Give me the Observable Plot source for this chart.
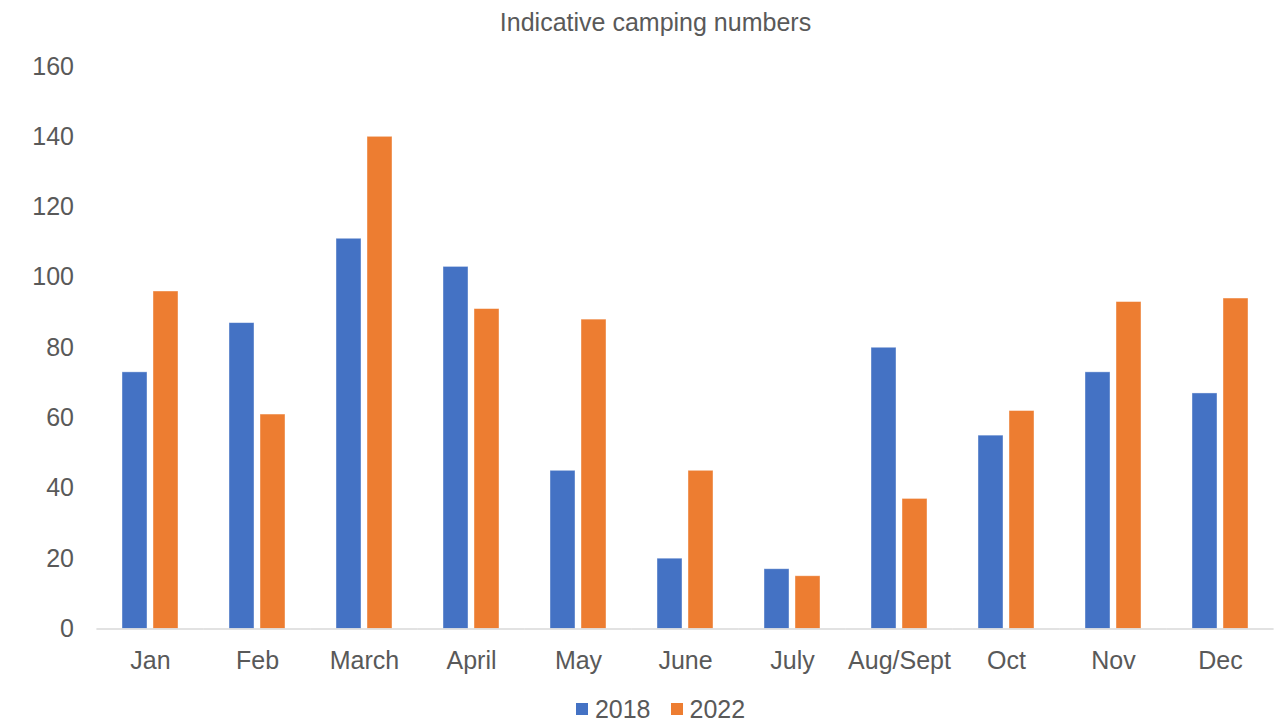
<!DOCTYPE html>
<html>
<head>
<meta charset="utf-8">
<script src="https://cdn.jsdelivr.net/npm/d3@7"></script>
<script src="https://cdn.jsdelivr.net/npm/@observablehq/plot@0.6"></script>
<style>
  html, body { margin: 0; padding: 0; background: #fff; }
  body { width: 1287px; height: 724px; overflow: hidden; font-family: "Liberation Sans", Arial, sans-serif; color: #595959; }
  #title { height: 44px; line-height: 44px; font-size: 25px; text-align: center; width: 1287px; padding-left: 24px; box-sizing: border-box; }
  #legend { height: 30px; display: flex; justify-content: center; align-items: center; font-size: 25px; width: 1287px; padding-left: 34px; box-sizing: border-box; }
  .item { display: flex; align-items: center; margin: 0 10px; }
  .sw { width: 12px; height: 12px; margin-right: 7px; display: inline-block; }
</style>
</head>
<body>
<div id="title">Indicative camping numbers</div>
<div id="chart"></div>
<div id="legend"></div>
<script>
const months = ["Jan", "Feb", "March", "April", "May", "June", "July", "Aug/Sept", "Oct", "Nov", "Dec"];
const years = ["2018", "2022"];
const values2018 = [73, 87, 111, 103, 45, 20, 17, 80, 55, 73, 67];
const values2022 = [96, 61, 140, 91, 88, 45, 15, 37, 62, 93, 94];
const colors = ["#4472C4", "#ED7D31"];
const yTicks = [0, 20, 40, 60, 80, 100, 120, 140, 160];

const data = [];
months.forEach((m, i) => {
  data.push({month: m, year: "2018", value: values2018[i]});
  data.push({month: m, year: "2022", value: values2022[i]});
});

const chart = Plot.plot({
  width: 1287,
  height: 650,
  marginTop: 22,
  marginBottom: 65.5,
  marginLeft: 95,
  marginRight: 12,
  style: {fontFamily: '"Liberation Sans", Arial, sans-serif', fontSize: "25px", color: "#595959", background: "transparent"},
  fx: {domain: months, axis: "bottom", label: null, tickSize: 0, tickPadding: 22, paddingInner: 0.364, paddingOuter: 0.182},
  x: {domain: years, axis: null, paddingInner: 0.1935, paddingOuter: 0.1935},
  y: {domain: [0, 160], axis: null},
  color: {domain: years, range: colors},
  marks: [
    Plot.axisY(yTicks, {tickSize: 0, tickPadding: 0, dx: -42.5, label: null, fill: "#595959"}),
    Plot.barY(data, {fx: "month", x: "year", y: "value", fill: "year", stroke: "#ffffff", strokeWidth: 0.8, strokeOpacity: 0.5}),
    Plot.ruleY([0], {stroke: "#d9d9d9", strokeWidth: 1.5, insetLeft: -19.6, insetRight: -19.6})
  ]
});
document.getElementById("chart").appendChild(chart);

const legend = document.getElementById("legend");
years.forEach((y, i) => {
  const item = document.createElement("div");
  item.className = "item";
  const sw = document.createElement("span");
  sw.className = "sw";
  sw.style.background = colors[i];
  item.appendChild(sw);
  const t = document.createElement("span");
  t.textContent = y;
  item.appendChild(t);
  legend.appendChild(item);
});
</script>
</body>
</html>
